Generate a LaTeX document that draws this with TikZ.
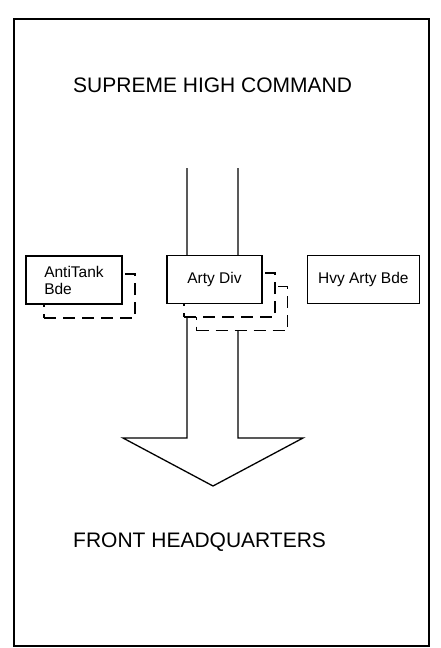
\documentclass[tikz,border=0pt]{standalone}
\usepackage{fontspec}
\setmainfont{Liberation Sans}
\usetikzlibrary{positioning}

\tikzset{
  unitbox/.style={draw, line width=1.3pt, fill=white, minimum width=95pt, minimum height=48pt,
    inner sep=0pt, font=\fontsize{15.5}{17}\selectfont},
  dashbox/.style={draw, line width=1.3pt, fill=white, dash pattern=on 12pt off 7pt,
    minimum width=91pt, minimum height=44pt, inner sep=0pt},
  heading/.style={anchor=base west, inner sep=0pt, font=\fontsize{21}{25}\selectfont},
}

\begin{document}
\begin{tikzpicture}[x=1pt, y=-1pt]
    \useasboundingbox (0,0) rectangle (440,648);
    \draw[line width=1.6pt] (14,19) rectangle (429,646);

    \node[heading] (supreme) at (73,92) {SUPREME HIGH COMMAND};
    \node[heading] (front) at (73,547) {FRONT HEADQUARTERS};

    \draw[line width=1.3pt] (187,168) -- (187,438) -- (123,438) -- (213,486)
        -- (303,438) -- (238,438) -- (238,168);

    \coordinate (artyc) at (214.5,279.5);
    \coordinate (antic) at (74,280);

    \node[dashbox] (arty2) at ([shift={(27.5,29)}]artyc) {};
    \node[dashbox] (arty1) at ([shift={(15,15.5)}]artyc) {};
    \node[unitbox] (arty) at (artyc) {Arty Div};

    \node[dashbox] (anti1) at ([shift={(15.5,16)}]antic) {};
    \node[unitbox, minimum width=96pt, align=left] (anti) at (antic) {AntiTank\\Bde};

    \node[unitbox, minimum width=112pt, right=44pt of arty] (hvy) {Hvy Arty Bde};
\end{tikzpicture}
\end{document}
